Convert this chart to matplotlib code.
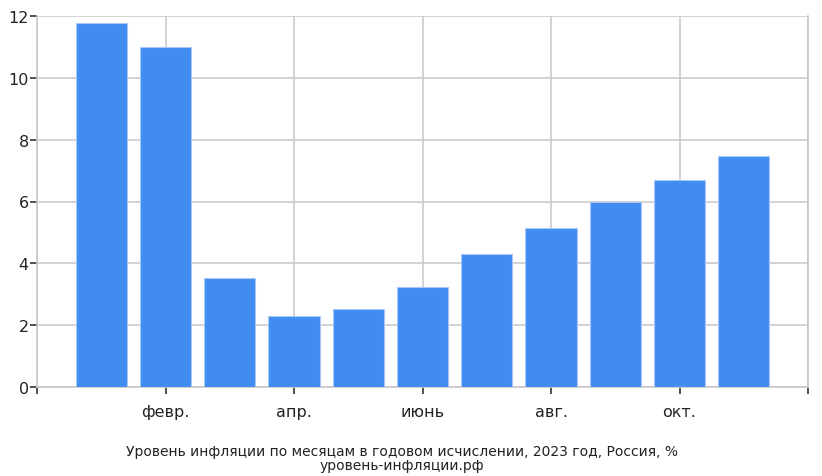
import matplotlib
matplotlib.use("Agg")
import matplotlib.pyplot as plt

# inflation, % year-on-year, Jan..Nov 2023
months = [1, 2, 3, 4, 5, 6, 7, 8, 9, 10, 11]
inflation = [11.77, 10.99, 3.51, 2.31, 2.51, 3.25, 4.30, 5.15, 6.00, 6.69, 7.48]
tick_pos = [0, 2, 4, 6, 8, 10, 12]
tick_labels = ["", "февр.", "апр.", "июнь", "авг.", "окт.", ""]
title_lines = ["Уровень инфляции по месяцам в годовом исчислении, 2023 год, Россия, %",
               "уровень-инфляции.рф"]

fig = plt.figure(figsize=(8.22, 4.77), dpi=100)
ax = fig.add_axes([37 / 822, 1 - 388 / 477, 771 / 822, 371 / 477])

ax.bar(months, inflation, width=0.8, color="#418cf0", edgecolor="#a8c9f8",
       linewidth=0.8, zorder=3)

ax.set_xlim(0, 12)
ax.set_ylim(0, 12)
ax.set_yticks([0, 2, 4, 6, 8, 10, 12])
ax.set_xticks(tick_pos)
ax.set_xticklabels(tick_labels)
ax.grid(True, color="#cccccc", linewidth=1.2, zorder=0)
ax.set_axisbelow(True)

for side in ["left", "right", "bottom"]:
    ax.spines[side].set_color("#c8c8c8")
    ax.spines[side].set_linewidth(1.2)
ax.spines["top"].set_visible(False)
ax.tick_params(axis="both", colors="#333333", labelcolor="#222222",
               length=5, width=1.2, labelsize=11.5)
ax.tick_params(axis="x", pad=7)
ax.tick_params(axis="y", pad=1)

fig.text(402 / 822, 1 - 452 / 477, title_lines[0], ha="center", va="center",
         fontsize=10, color="#222222")
fig.text(402 / 822, 1 - 466 / 477, title_lines[1], ha="center", va="center",
         fontsize=10, color="#222222")

fig.savefig("out.png", dpi=100)
